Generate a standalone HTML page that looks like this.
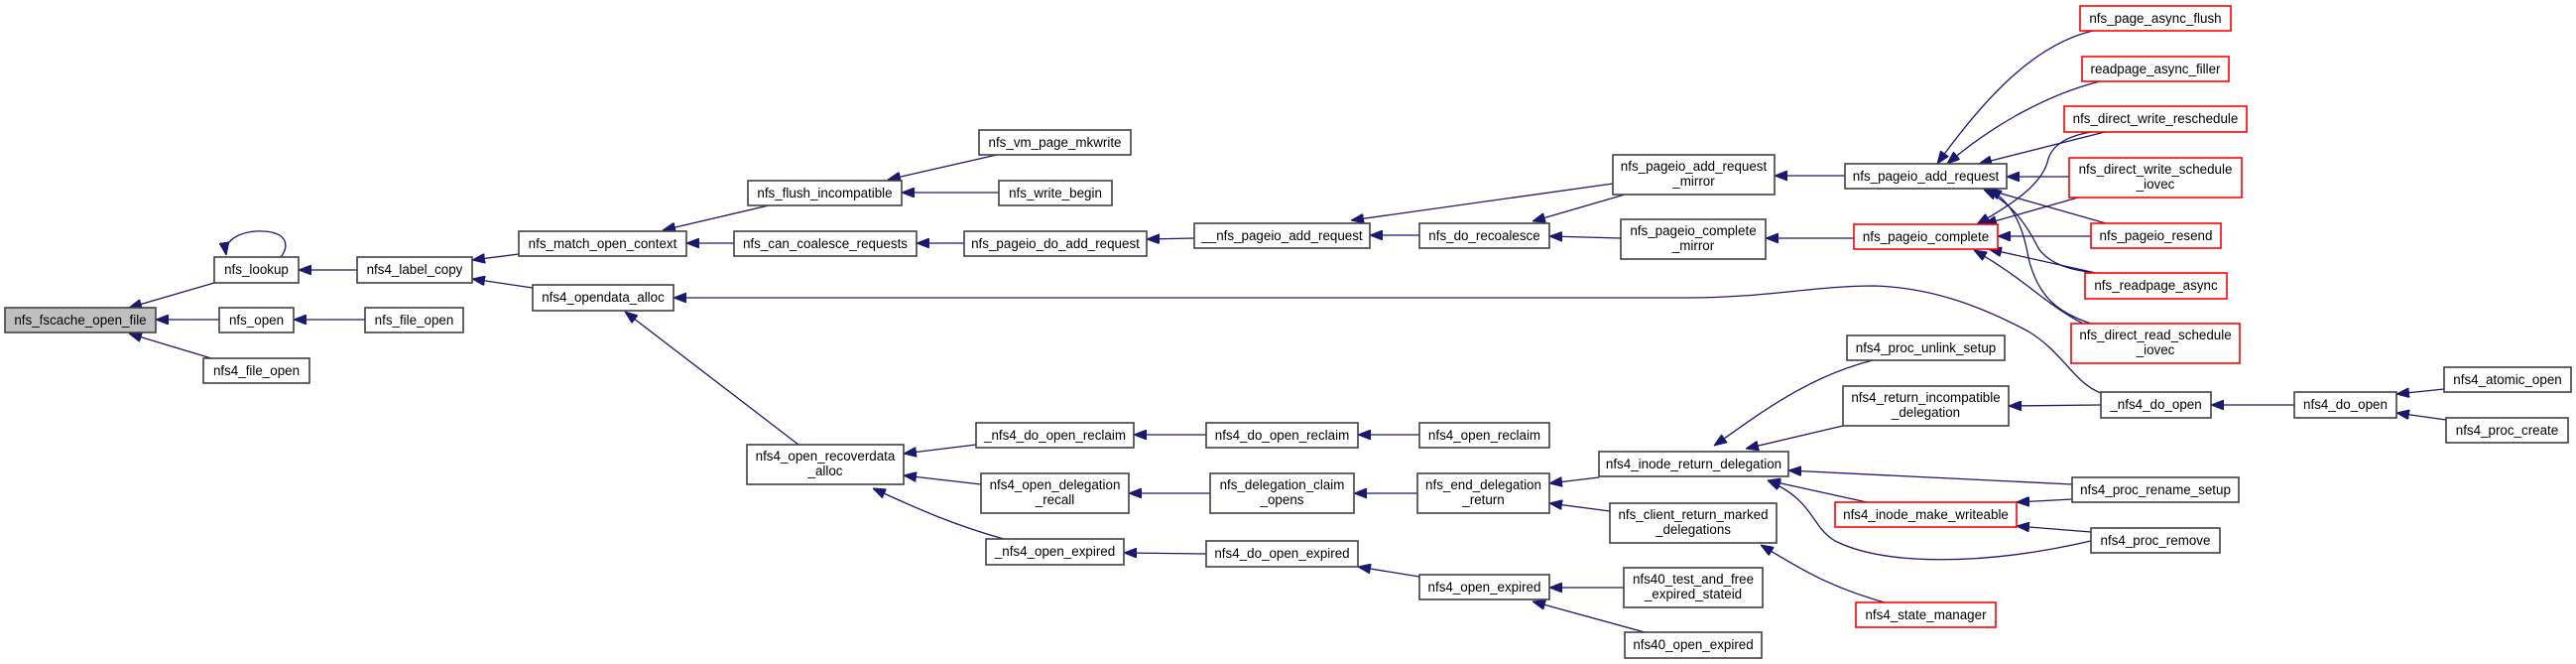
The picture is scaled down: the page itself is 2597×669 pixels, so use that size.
<!DOCTYPE html>
<html><head><meta charset="utf-8"><style>
html,body{margin:0;padding:0;background:#fff;width:2597px;height:669px;overflow:hidden}
svg text{font-family:"Liberation Sans",sans-serif;font-size:13.4px;fill:#000;text-anchor:middle}
.e{fill:none;stroke:#191970;stroke-width:1.3;marker-start:url(#a)}
.n{fill:#fff;stroke:#404040;stroke-width:1.6}
.r{fill:#fff;stroke:#ff0000;stroke-width:1.6}
</style></head><body>
<svg width="2597" height="669" viewBox="0 0 2597 669" xmlns="http://www.w3.org/2000/svg">
<defs><marker id="a" markerUnits="userSpaceOnUse" markerWidth="13" markerHeight="10" refX="13" refY="5" orient="auto-start-reverse"><path d="M0,0 L13,5 L0,10 z" fill="#191970" stroke="#191970"/></marker></defs>

<!-- edges (start = arrow tip at callee) -->
<path class="e" d="M130,310 L216,285"/>
<path class="e" d="M228,257 C225,238 250,232 265,233 C290,234 292,248 283,259"/>
<path class="e" d="M157,322 L221,322"/>
<path class="e" d="M130,336 L213,361"/>
<path class="e" d="M301,272 L360,272"/>
<path class="e" d="M296,322 L368,322"/>
<path class="e" d="M476,262 L523,256"/>
<path class="e" d="M476,281 L537,290"/>
<path class="e" d="M668,232 L775,207"/>
<path class="e" d="M692,245 L740,245"/>
<path class="e" d="M895,181 L1005,156"/>
<path class="e" d="M909,194 L1007,194"/>
<path class="e" d="M924,245 L972,245"/>
<path class="e" d="M1156,241 L1204,240"/>
<path class="e" d="M1381,237 L1431,237"/>
<path class="e" d="M1362,222 L1626,185"/>
<path class="e" d="M1545,223 L1638,196"/>
<path class="e" d="M1562,238 L1634,240"/>
<path class="e" d="M1789,177 L1860,177"/>
<path class="e" d="M1780,240 L1869,240"/>
<path class="e" d="M679,300 L1700,300 C1780,300 1830,288 1890,288 C1950,290 2000,310 2045,334 C2080,355 2090,385 2118,396"/>
<path class="e" d="M630,314 L805,448"/>
<path class="e" d="M911,457 L984,448"/>
<path class="e" d="M911,479 L989,488"/>
<path class="e" d="M880,492 C930,515 965,530 1012,543"/>
<path class="e" d="M1143,438 L1216,438"/>
<path class="e" d="M1138,497 L1220,497"/>
<path class="e" d="M1133,557 L1216,558"/>
<path class="e" d="M1369,438 L1431,438"/>
<path class="e" d="M1365,497 L1429,497"/>
<path class="e" d="M1369,571 L1431,581"/>
<path class="e" d="M1562,487 L1612,481"/>
<path class="e" d="M1562,507 L1623,515"/>
<path class="e" d="M1562,592 L1637,592"/>
<path class="e" d="M1545,606 L1658,637"/>
<path class="e" d="M1728,449 C1770,420 1820,380 1888,363"/>
<path class="e" d="M1760,452 L1858,429"/>
<path class="e" d="M1782,484 L1882,506"/>
<path class="e" d="M1782,484 C1830,505 1825,530 1850,545 C1900,570 2000,570 2108,545"/>
<path class="e" d="M1803,474 L2089,488"/>
<path class="e" d="M1775,549 C1810,570 1840,590 1900,607"/>
<path class="e" d="M2033,506 L2089,503"/>
<path class="e" d="M2033,530 L2108,536"/>
<path class="e" d="M2025,409 L2118,408"/>
<path class="e" d="M2229,408 L2313,408"/>
<path class="e" d="M2416,397 L2464,392"/>
<path class="e" d="M2416,416 L2466,423"/>
<!-- right cluster -->
<path class="e" d="M1953,165 C2000,100 2050,45 2110,31"/>
<path class="e" d="M1963,165 C2010,125 2065,95 2117,82"/>
<path class="e" d="M1995,165 L2122,133"/>
<path class="e" d="M1993,226 C2030,205 2060,185 2065,160 C2070,145 2085,137 2108,133"/>
<path class="e" d="M2023,178 L2086,178"/>
<path class="e" d="M2000,226 L2095,199"/>
<path class="e" d="M2014,238 L2108,238"/>
<path class="e" d="M2000,190 L2123,225"/>
<path class="e" d="M2000,191 C2030,205 2045,230 2055,250 C2065,265 2085,272 2113,275"/>
<path class="e" d="M2005,251 L2113,275"/>
<path class="e" d="M2005,190 C2030,205 2040,230 2045,260 C2055,300 2075,315 2108,326"/>
<path class="e" d="M1990,252 C2040,280 2060,305 2100,326"/>

<!-- nodes -->
<rect x="5" y="310" width="152" height="25" fill="#bfbfbf" stroke="#404040" stroke-width="1.6"/><text x="81" y="327">nfs_fscache_open_file</text>
<rect class="n" x="216" y="259" width="85" height="26"/><text x="258.5" y="276">nfs_lookup</text>
<rect class="n" x="221" y="310" width="75" height="25"/><text x="258.5" y="327">nfs_open</text>
<rect class="n" x="205" y="361" width="107" height="25"/><text x="258.5" y="378">nfs4_file_open</text>
<rect class="n" x="360" y="259" width="116" height="26"/><text x="418" y="276">nfs4_label_copy</text>
<rect class="n" x="368" y="310" width="99" height="25"/><text x="417.5" y="327">nfs_file_open</text>
<rect class="n" x="523" y="233" width="169" height="25"/><text x="607.5" y="250">nfs_match_open_context</text>
<rect class="n" x="537" y="287" width="142" height="26"/><text x="608" y="304">nfs4_opendata_alloc</text>
<rect class="n" x="753" y="448" width="158" height="40"/><text x="832" y="464">nfs4_open_recoverdata</text><text x="832" y="479">_alloc</text>
<rect class="n" x="754" y="182" width="155" height="25"/><text x="831.5" y="199">nfs_flush_incompatible</text>
<rect class="n" x="740" y="233" width="184" height="25"/><text x="832" y="250">nfs_can_coalesce_requests</text>
<rect class="n" x="987" y="131" width="153" height="25"/><text x="1063.5" y="148">nfs_vm_page_mkwrite</text>
<rect class="n" x="1007" y="182" width="114" height="25"/><text x="1064" y="199">nfs_write_begin</text>
<rect class="n" x="972" y="233" width="184" height="25"/><text x="1064" y="250">nfs_pageio_do_add_request</text>
<rect class="n" x="1204" y="225" width="177" height="25"/><text x="1292.5" y="242">__nfs_pageio_add_request</text>
<rect class="n" x="1431" y="225" width="131" height="25"/><text x="1496.5" y="242">nfs_do_recoalesce</text>
<rect class="n" x="984" y="426" width="159" height="25"/><text x="1063.5" y="443">_nfs4_do_open_reclaim</text>
<rect class="n" x="989" y="477" width="149" height="40"/><text x="1063.5" y="493">nfs4_open_delegation</text><text x="1063.5" y="508">_recall</text>
<rect class="n" x="994" y="543" width="139" height="26"/><text x="1063.5" y="560">_nfs4_open_expired</text>
<rect class="n" x="1216" y="426" width="153" height="25"/><text x="1292.5" y="443">nfs4_do_open_reclaim</text>
<rect class="n" x="1220" y="477" width="145" height="40"/><text x="1292.5" y="493">nfs_delegation_claim</text><text x="1292.5" y="508">_opens</text>
<rect class="n" x="1216" y="545" width="153" height="26"/><text x="1292.5" y="562">nfs4_do_open_expired</text>
<rect class="n" x="1431" y="426" width="131" height="25"/><text x="1496.5" y="443">nfs4_open_reclaim</text>
<rect class="n" x="1429" y="477" width="133" height="40"/><text x="1495.5" y="493">nfs_end_delegation</text><text x="1495.5" y="508">_return</text>
<rect class="n" x="1431" y="579" width="131" height="25"/><text x="1496.5" y="596">nfs4_open_expired</text>
<rect class="n" x="1626" y="156" width="163" height="40"/><text x="1707.5" y="172">nfs_pageio_add_request</text><text x="1707.5" y="187">_mirror</text>
<rect class="n" x="1634" y="221" width="146" height="40"/><text x="1707" y="237">nfs_pageio_complete</text><text x="1707" y="252">_mirror</text>
<rect class="n" x="1612" y="455" width="191" height="25"/><text x="1707.5" y="472">nfs4_inode_return_delegation</text>
<rect class="n" x="1623" y="507" width="168" height="40"/><text x="1707" y="523">nfs_client_return_marked</text><text x="1707" y="538">_delegations</text>
<rect class="n" x="1637" y="572" width="140" height="40"/><text x="1707" y="588">nfs40_test_and_free</text><text x="1707" y="603">_expired_stateid</text>
<rect class="n" x="1638" y="637" width="138" height="26"/><text x="1707" y="654">nfs40_open_expired</text>
<rect class="n" x="1860" y="165" width="163" height="25"/><text x="1941.5" y="182">nfs_pageio_add_request</text>
<rect class="r" x="1869" y="226" width="145" height="25"/><text x="1941.5" y="243">nfs_pageio_complete</text>
<rect class="n" x="1862" y="338" width="159" height="25"/><text x="1941.5" y="355">nfs4_proc_unlink_setup</text>
<rect class="n" x="1858" y="389" width="167" height="40"/><text x="1941.5" y="405">nfs4_return_incompatible</text><text x="1941.5" y="420">_delegation</text>
<rect class="r" x="1850" y="506" width="183" height="25"/><text x="1941.5" y="523">nfs4_inode_make_writeable</text>
<rect class="r" x="1871" y="607" width="141" height="25"/><text x="1941.5" y="624">nfs4_state_manager</text>
<rect class="r" x="2097" y="6" width="152" height="25"/><text x="2173" y="23">nfs_page_async_flush</text>
<rect class="r" x="2099" y="57" width="148" height="25"/><text x="2173" y="74">readpage_async_filler</text>
<rect class="r" x="2081" y="107" width="184" height="26"/><text x="2173" y="124">nfs_direct_write_reschedule</text>
<rect class="r" x="2086" y="159" width="174" height="40"/><text x="2173" y="175">nfs_direct_write_schedule</text><text x="2173" y="190">_iovec</text>
<rect class="r" x="2108" y="225" width="131" height="25"/><text x="2173.5" y="242">nfs_pageio_resend</text>
<rect class="r" x="2102" y="275" width="143" height="26"/><text x="2173.5" y="292">nfs_readpage_async</text>
<rect class="r" x="2088" y="326" width="170" height="40"/><text x="2173" y="342">nfs_direct_read_schedule</text><text x="2173" y="357">_iovec</text>
<rect class="n" x="2118" y="395" width="111" height="26"/><text x="2173.5" y="412">_nfs4_do_open</text>
<rect class="n" x="2313" y="395" width="103" height="26"/><text x="2364.5" y="412">nfs4_do_open</text>
<rect class="n" x="2464" y="370" width="128" height="25"/><text x="2528" y="387">nfs4_atomic_open</text>
<rect class="n" x="2466" y="421" width="123" height="25"/><text x="2527.5" y="438">nfs4_proc_create</text>
<rect class="n" x="2089" y="481" width="168" height="25"/><text x="2173" y="498">nfs4_proc_rename_setup</text>
<rect class="n" x="2108" y="532" width="130" height="25"/><text x="2173" y="549">nfs4_proc_remove</text>
</svg>
</body></html>
